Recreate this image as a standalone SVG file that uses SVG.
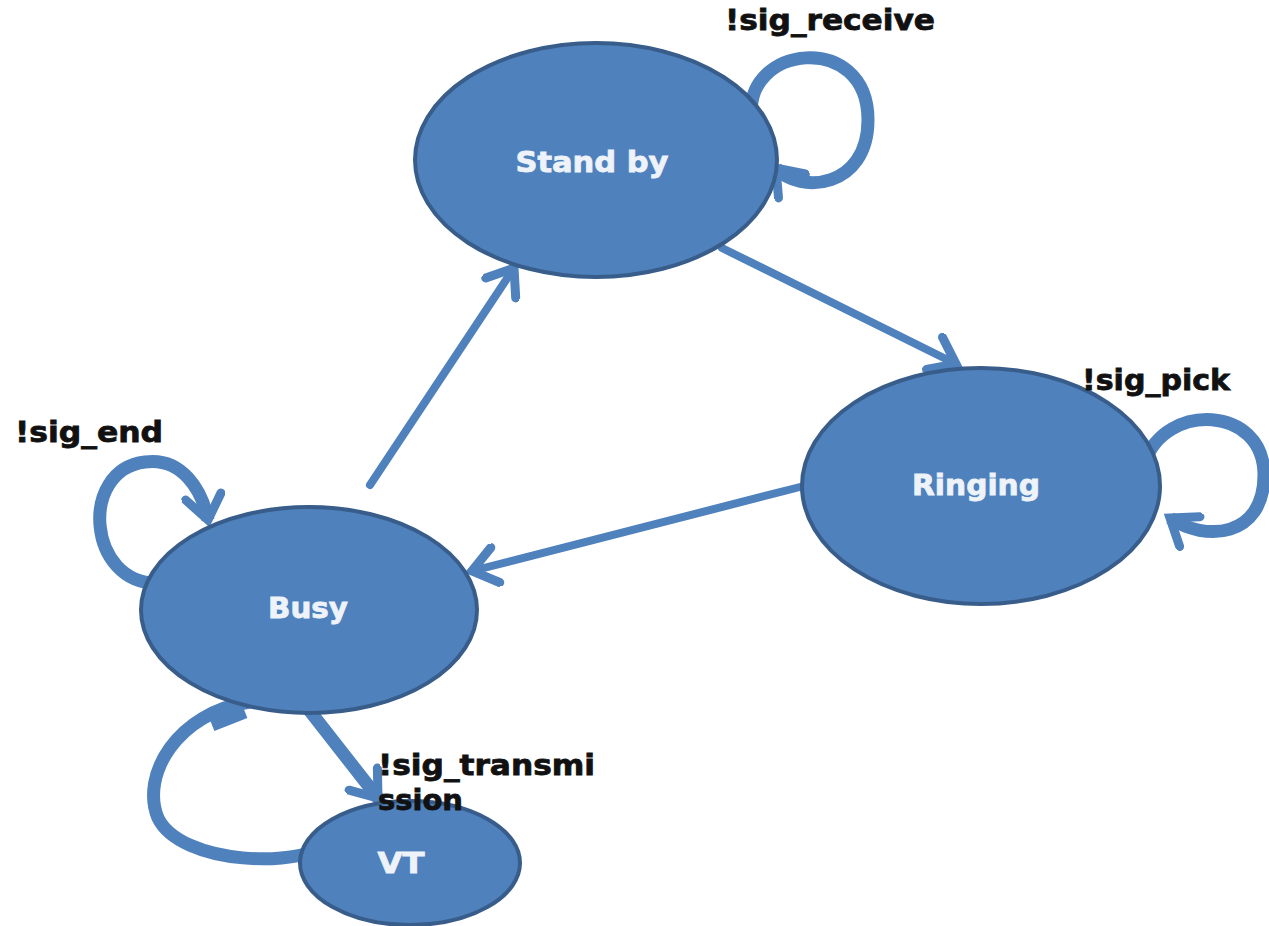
<svg xmlns="http://www.w3.org/2000/svg" width="1269" height="926" viewBox="0 0 1269 926">
  <style>
    .state { fill: #4f81bd; stroke: #385d8a; stroke-width: 4; }
    .name { font-family: "DejaVu Sans", "Liberation Sans", sans-serif; font-weight: bold; font-size: 29px; fill: #eef3fa; stroke: #eef3fa; stroke-width: 0.8; text-anchor: middle; }
    .guard { font-family: "DejaVu Sans", "Liberation Sans", sans-serif; font-weight: bold; font-size: 29px; fill: #111111; stroke: #111111; stroke-width: 0.8; }
    .edge { fill: none; stroke: #4f81bd; stroke-width: 8; stroke-linecap: round; }
    .heavy { stroke-width: 13; }
    .loop { fill: none; stroke: #4f81bd; stroke-width: 13; }
  </style>
  <defs>
    <marker id="head" viewBox="0 0 44 44" refX="30" refY="22" markerWidth="44" markerHeight="44" markerUnits="userSpaceOnUse" orient="auto">
      <path d="M6,4 L30,22 L6,40" fill="none" stroke="#4f81bd" stroke-width="9" stroke-linecap="round" stroke-linejoin="miter"/>
    </marker>
  </defs>

  <rect width="1269" height="926" fill="#ffffff"/>

  <!-- transitions -->
  <g id="connectors">
    <line class="edge" x1="370" y1="485" x2="514" y2="268" marker-end="url(#head)"/>
    <line class="edge" x1="722" y1="248" x2="956" y2="364" marker-end="url(#head)"/>
    <line class="edge" x1="800" y1="487" x2="472" y2="571" marker-end="url(#head)"/>
    <line class="edge heavy" x1="306" y1="706" x2="378" y2="798" marker-end="url(#head)"/>
    <path class="loop" d="M752,118 C742,45 868,30 868,120 C868,188 800,195 776,168" marker-end="url(#head)"/>
    <path class="loop" d="M1145,462 C1165,402 1264,405 1264,475 C1264,538 1205,542 1170,518" marker-end="url(#head)"/>
    <path class="loop" d="M158,583 C88,585 78,470 145,462 C182,457 202,490 208,520" marker-end="url(#head)"/>
    <path class="loop" d="M250,702 C178,712 140,775 158,818 C180,864 300,872 345,837"/>
    <line class="loop" x1="212" y1="725" x2="245" y2="712"/>
  </g>

  <g id="standby">
    <ellipse class="state" cx="596" cy="160" rx="181" ry="117"/>
    <text class="name" x="592" y="172" textLength="153" lengthAdjust="spacingAndGlyphs">Stand by</text>
  </g>
  <g id="ringing">
    <ellipse class="state" cx="981" cy="486" rx="179" ry="118"/>
    <text class="name" x="976" y="495" textLength="128" lengthAdjust="spacingAndGlyphs">Ringing</text>
  </g>
  <g id="busy">
    <ellipse class="state" cx="309" cy="610" rx="168" ry="103"/>
    <text class="name" x="308" y="618" textLength="80" lengthAdjust="spacingAndGlyphs">Busy</text>
  </g>
  <g id="vt">
    <ellipse class="state" cx="410" cy="863" rx="110" ry="62"/>
    <text class="name" x="401" y="873" textLength="47" lengthAdjust="spacingAndGlyphs">VT</text>
  </g>

  <!-- guard labels -->
  <g id="labels">
    <text class="guard" x="725" y="30" textLength="210" lengthAdjust="spacingAndGlyphs">!sig_receive</text>
    <text class="guard" x="1082" y="390" textLength="148" lengthAdjust="spacingAndGlyphs">!sig_pick</text>
    <text class="guard" x="15" y="442" textLength="148" lengthAdjust="spacingAndGlyphs">!sig_end</text>
    <text class="guard" x="378" y="775" textLength="217" lengthAdjust="spacingAndGlyphs">!sig_transmi</text>
    <text class="guard" x="378" y="810" textLength="85" lengthAdjust="spacingAndGlyphs">ssion</text>
  </g>
</svg>
